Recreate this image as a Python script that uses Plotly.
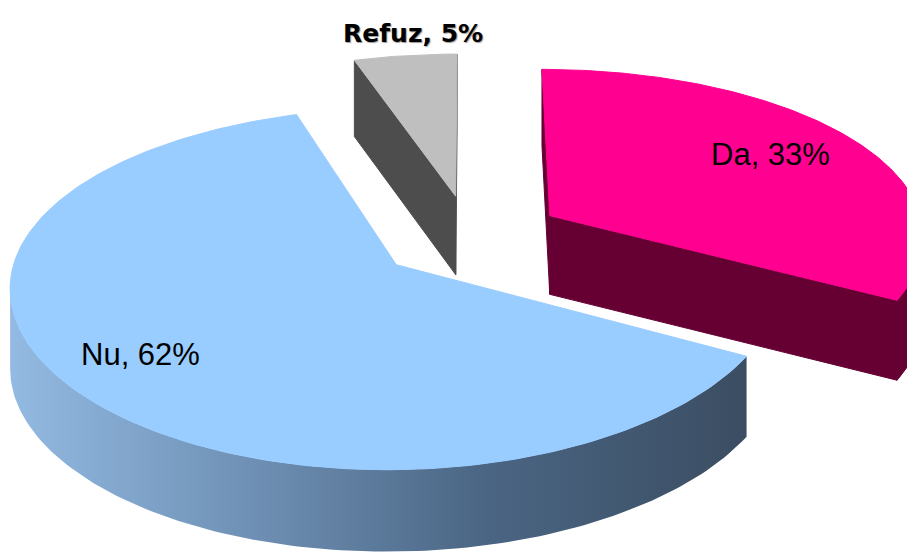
import numpy as np
import plotly.graph_objects as go

# ---- data ----
categories = ["Da", "Nu", "Refuz"]
values = [33, 62, 5]

# ---- styles ----
top_colors = ["#FF0090", "#99CCFF", "#BFBFBF"]
side_colors = ["#660033", "#4A6583", "#4D4D4D"]
gradient_side = {"Nu": [[0, "#93BAE2"], [0.35, "#6C8DB1"], [0.65, "#4A6583"], [1, "#3B4D62"]]}
label_pos = {"Da": (770, 154), "Nu": (140, 354), "Refuz": (413, 33)}
label_font = {
    "Da": dict(family="Liberation Sans, Arial", size=31, color="black"),
    "Nu": dict(family="Liberation Sans, Arial", size=31, color="black"),
    "Refuz": dict(family="DejaVu Sans", size=25, color="black", weight="bold",
                  shadow="1px 1px 1px #9a9a9a"),
}

# ---- projection model (pixel-like axis units) ----
CX, CY = 470, 237
RX, RY = 376, 170.5
H = 79
EXPLODE = 0.25
PX, PY, PH = 0.11, 0.13, 0.03


def proj(u, v, drop=0.0):
    u = np.asarray(u, dtype=float)
    v = np.asarray(v, dtype=float)
    fx = 1.0 / (1.0 + PX * v)
    fy = 1.0 / (1.0 + PY * v)
    fh = 1.0 / (1.0 + PH * v)
    return CX + RX * u * fx, CY - RY * v * fy + drop * H * fh


def signed_area(xs, ys):
    xs = np.asarray(xs)
    ys = np.asarray(ys)
    return 0.5 * np.sum(xs * np.roll(ys, -1) - np.roll(xs, -1) * ys)


total = float(sum(values))
slices = []
cum = 0.0
for cat, val, tc, sc in zip(categories, values, top_colors, side_colors):
    a1 = 360.0 * cum / total
    a2 = 360.0 * (cum + val) / total
    cum += val
    mid = np.radians((a1 + a2) / 2)
    ou, ov = EXPLODE * np.sin(mid), EXPLODE * np.cos(mid)
    slices.append(dict(cat=cat, val=val, a1=a1, a2=a2, ou=ou, ov=ov, tc=tc, sc=sc))

fig = go.Figure()


def add_poly(xs, ys, color, line=True, gradient=None):
    xs = list(np.append(xs, xs[0]))
    ys = list(np.append(ys, ys[0]))
    kw = dict(x=xs, y=ys, mode="lines", fill="toself", hoverinfo="skip", showlegend=False)
    if gradient is not None:
        kw["fillgradient"] = dict(type="horizontal", colorscale=gradient)
        kw["line"] = dict(width=0, color=color)
    else:
        kw["fillcolor"] = color
        kw["line"] = dict(width=1 if line else 0, color=color)
    fig.add_trace(go.Scatter(**kw))


# back-to-front
for s in sorted(slices, key=lambda d: -d["ov"]):
    ou, ov = s["ou"], s["ov"]
    th = np.radians(np.linspace(s["a1"], s["a2"], 200))
    u = ou + np.sin(th)
    v = ov + np.cos(th)
    tx, ty = proj(u, v)
    bx, by = proj(u, v, 1.0)
    vx, vy = proj(ou, ov)
    vbx, vby = proj(ou, ov, 1.0)

    # cut face at start angle
    fxs = [vx, tx[0], bx[0], vbx]
    fys = [vy, ty[0], by[0], vby]
    if signed_area(fxs, fys) < 0:
        add_poly(np.array(fxs), np.array(fys), s["sc"])
    # cut face at end angle
    fxs = [vx, vbx, bx[-1], tx[-1]]
    fys = [vy, vby, by[-1], ty[-1]]
    if signed_area(fxs, fys) < 0:
        add_poly(np.array(fxs), np.array(fys), s["sc"])

    # outer curved side: front-facing runs
    vis = []
    for k in range(len(th) - 1):
        qa = signed_area([tx[k], tx[k + 1], bx[k + 1], bx[k]], [ty[k], ty[k + 1], by[k + 1], by[k]])
        vis.append(qa < 0)
    k = 0
    while k < len(vis):
        if vis[k]:
            j = k
            while j < len(vis) and vis[j]:
                j += 1
            idx = np.arange(k, j + 1)
            xs = np.concatenate([tx[idx], bx[idx][::-1]])
            ys = np.concatenate([ty[idx], by[idx][::-1]])
            add_poly(xs, ys, s["sc"], gradient=gradient_side.get(s["cat"]))
            k = j
        else:
            k += 1

    # top face
    xs = np.concatenate([[vx], tx])
    ys = np.concatenate([[vy], ty])
    add_poly(xs, ys, s["tc"])

for s in slices:
    lx, ly = label_pos[s["cat"]]
    fig.add_annotation(x=lx, y=ly, text=f"{s['cat']}, {s['val']}%", showarrow=False,
                       font=label_font[s["cat"]], xanchor="center", yanchor="middle")

fig.update_layout(
    width=907, height=559,
    margin=dict(l=0, r=0, t=0, b=0),
    paper_bgcolor="white", plot_bgcolor="white",
    xaxis=dict(range=[0, 907], visible=False, fixedrange=True),
    yaxis=dict(range=[559, 0], visible=False, fixedrange=True),
    showlegend=False,
)

fig.write_html("out.html", config={"displayModeBar": False},
               post_script="document.body.style.margin='0px';")
